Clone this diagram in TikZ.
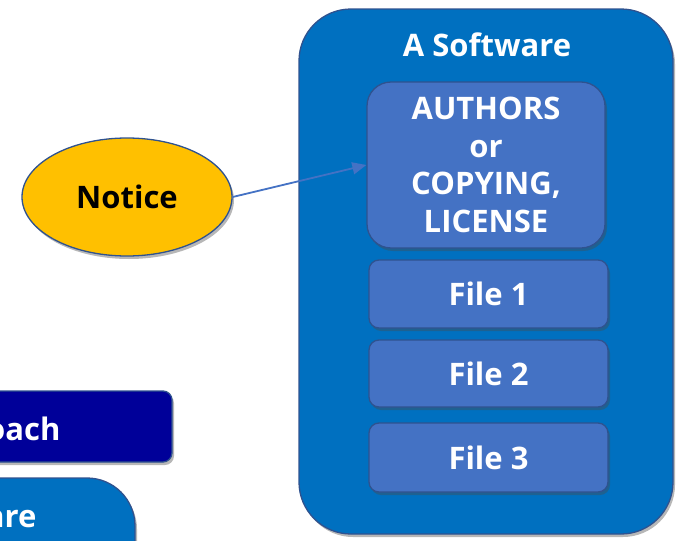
\documentclass[tikz,border=0pt]{standalone}
\usepackage{fontspec}
\setmainfont{Open Sans}
\usetikzlibrary{shapes.geometric,arrows.meta,shadows}
\definecolor{outerblue}{HTML}{0070C0}
\definecolor{innerblue}{HTML}{4472C4}
\definecolor{edgeblue}{HTML}{2F528F}
\definecolor{navy}{HTML}{000099}
\definecolor{gold}{HTML}{FFC000}
\tikzset{
  shd/.style={drop shadow={shadow xshift=2pt,shadow yshift=-3pt,opacity=0.4,fill=black!70}},
  txt/.style={font=\fontsize{31}{37.5}\selectfont\bfseries, text=white, align=center},
  outerbox/.style={draw=edgeblue, line width=1.3pt, fill=outerblue, rounded corners=52pt, shd},
  innerbox/.style={draw=edgeblue, line width=1.3pt, fill=innerblue, shd, txt, inner sep=0pt},
  navybox/.style={draw=edgeblue, line width=1.3pt, fill=navy, rounded corners=9pt, shd},
  noticeshape/.style={ellipse, draw=edgeblue, line width=1.3pt, fill=gold, shd, inner sep=0pt},
  link/.style={draw=innerblue, line width=1.8pt, -{Triangle[length=14pt,width=12pt]}}
}
\begin{document}
\begin{tikzpicture}[x=1pt,y=-1pt]
\useasboundingbox (0,0) rectangle (683,541);
\clip (0,0) rectangle (683,541);
% bottom-left partial boxes
\node[navybox, minimum width=272pt, minimum height=71pt] (appr) at (36,426.5) {};
\node[txt, anchor=base east] (apprtxt) at (64,440) {Approach};
\node[outerbox, rounded corners=48pt, minimum width=285pt, minimum height=122pt] (soft) at (-7.5,539) {};
\node[txt, anchor=base east] (softtxt) at (40,527) {Software};
% main software box
\node[outerbox, minimum width=374pt, minimum height=525pt] (sw) at (486,271.5) {};
\node[txt, anchor=base] (swtitle) at (487,56) {A Software};
\node[innerbox, rounded corners=24pt, minimum width=238pt, minimum height=166pt] (auth) at (486,165)
  {AUTHORS\\or\\COPYING,\\LICENSE};
\node[innerbox, rounded corners=10pt, minimum width=239pt, minimum height=68pt] (f1) at (488.5,294) {File 1};
\node[innerbox, rounded corners=10pt, minimum width=239pt, minimum height=67pt] (f2) at (488.5,373.5) {File 2};
\node[innerbox, rounded corners=10pt, minimum width=239pt, minimum height=69pt] (f3) at (488.5,457.5) {File 3};
% notice
\node[noticeshape, minimum width=210pt, minimum height=118pt, font=\fontsize{31}{37.5}\selectfont\bfseries] (notice) at (127,197) {Notice};
\draw[link] (notice.east) -- (auth.west |- 0,165);
\end{tikzpicture}
\end{document}
